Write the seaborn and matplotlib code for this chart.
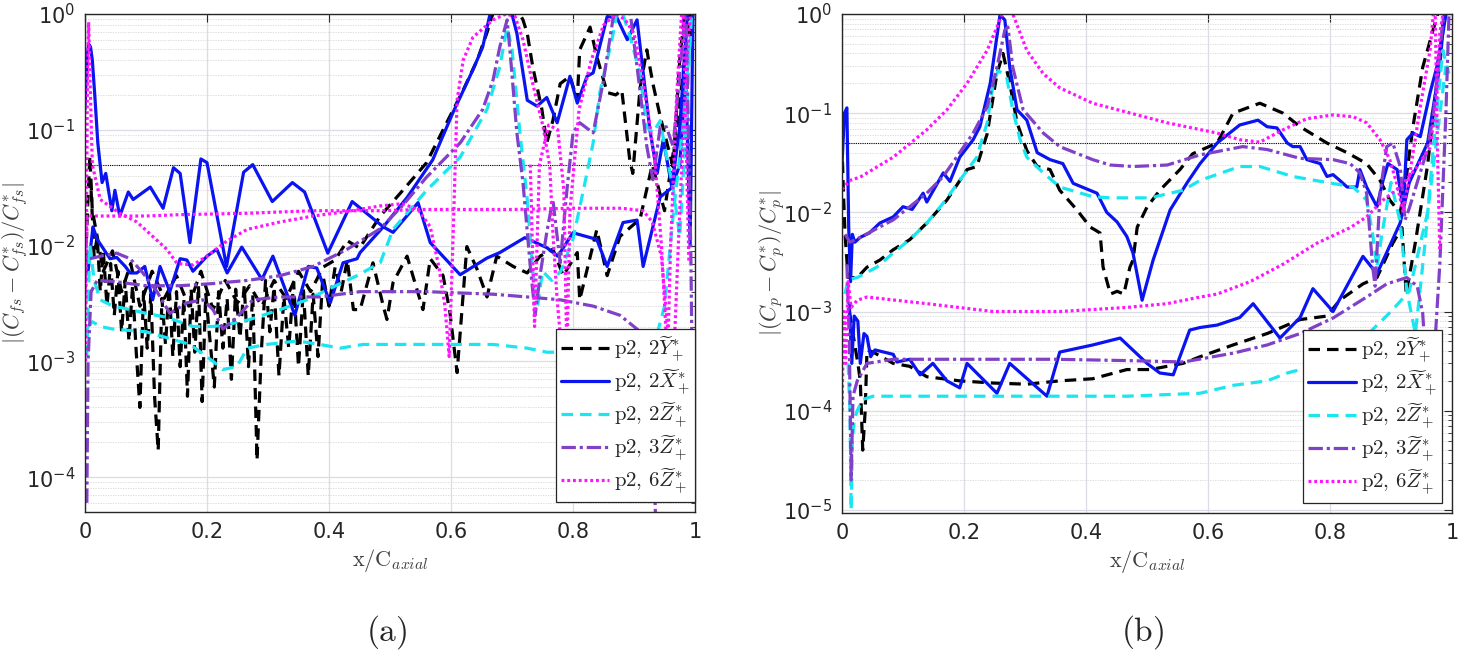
import numpy as np
import pandas as pd
import matplotlib
matplotlib.use("Agg")
import matplotlib.pyplot as plt
import seaborn as sns
from matplotlib.ticker import LogLocator, NullFormatter, FixedLocator, FixedFormatter

sns.set_theme(style="white")
plt.rcParams['font.family'] = ['DejaVu Sans']
plt.rcParams['mathtext.fontset'] = 'cm'

# ---------------- labels ----------------
series_labels = [r"$\mathrm{p2,}\,\mathrm{2}\widetilde{Y}^{*}_{+}$",
                 r"$\mathrm{p2,}\,\mathrm{2}\widetilde{X}^{*}_{+}$",
                 r"$\mathrm{p2,}\,\mathrm{2}\widetilde{Z}^{*}_{+}$",
                 r"$\mathrm{p2,}\,\mathrm{3}\widetilde{Z}^{*}_{+}$",
                 r"$\mathrm{p2,}\,\mathrm{6}\widetilde{Z}^{*}_{+}$"]
xtick_vals = [0, 0.2, 0.4, 0.6, 0.8, 1.0]
xtick_labels = ["0", "0.2", "0.4", "0.6", "0.8", "1"]
ref_level = 0.05

# ---------------- panel (a): skin friction ----------------
a_Y2_hi_x = [0.0, 0.004, 0.008, 0.012, 0.02, 0.03, 0.045, 0.06, 0.075, 0.09, 0.11, 0.13, 0.15, 0.17, 0.19, 0.21, 0.23, 0.25, 0.27, 0.29, 0.31, 0.33, 0.35, 0.37, 0.39, 0.41, 0.43, 0.45, 0.484, 0.521, 0.56, 0.598, 0.62, 0.643, 0.659, 0.675, 0.70, 0.718, 0.725, 0.734, 0.749, 0.757, 0.767, 0.779, 0.795, 0.807, 0.811, 0.828, 0.839, 0.856, 0.87, 0.88, 0.893, 0.898, 0.91, 0.921, 0.931, 0.943, 0.964, 0.975, 0.985, 0.995]
a_Y2_hi_y = [0.005, 0.02, 0.06, 0.02, 0.012, 0.006, 0.009, 0.004, 0.007, 0.003, 0.006, 0.0035, 0.0055, 0.003, 0.006, 0.0028, 0.005, 0.0032, 0.0045, 0.003, 0.005, 0.0035, 0.006, 0.004, 0.0065, 0.0075, 0.011, 0.0095, 0.018, 0.030, 0.052, 0.13, 0.22, 0.40, 0.69, 1.3, 1.3, 0.89, 0.68, 0.35, 0.15, 0.077, 0.12, 0.25, 0.29, 0.18, 0.49, 0.77, 0.43, 0.21, 0.2, 0.22, 0.055, 0.042, 0.23, 0.49, 0.25, 0.13, 0.048, 0.4, 1.3, 0.6]

a_Y2_lo_x = [0.010, 0.015, 0.020, 0.025, 0.030, 0.036, 0.042, 0.048, 0.054, 0.060, 0.066, 0.072, 0.078, 0.084, 0.090, 0.096, 0.102, 0.108, 0.114, 0.120, 0.126, 0.132, 0.138, 0.144, 0.150, 0.156, 0.162, 0.168, 0.174, 0.180, 0.186, 0.192, 0.198, 0.205, 0.212, 0.219, 0.226, 0.233, 0.240, 0.247, 0.254, 0.261, 0.268, 0.275, 0.282, 0.289, 0.296, 0.303, 0.310, 0.318, 0.326, 0.334, 0.342, 0.350, 0.358, 0.366, 0.374, 0.382, 0.390, 0.400, 0.410, 0.420, 0.430, 0.440, 0.451, 0.472, 0.489, 0.495, 0.505, 0.528, 0.544, 0.554, 0.566, 0.587, 0.598, 0.610, 0.626, 0.643, 0.659, 0.675, 0.702, 0.725, 0.746, 0.767, 0.784, 0.807, 0.811, 0.839, 0.856, 0.877, 0.910, 0.930, 0.950, 0.970, 0.985, 0.995]
a_Y2_lo_y = [0.03, 0.008, 0.012, 0.004, 0.009, 0.003, 0.007, 0.0025, 0.006, 0.0018, 0.005, 0.0015, 0.0045, 0.0012, 0.0004, 0.004, 0.0013, 0.0038, 0.0005, 0.00017, 0.0035, 0.0014, 0.0045, 0.0011, 0.004, 0.0009, 0.0035, 0.0005, 0.0042, 0.0012, 0.0045, 0.00045, 0.0038, 0.0015, 0.0006, 0.004, 0.0013, 0.0035, 0.0007, 0.0042, 0.0016, 0.0045, 0.0009, 0.0038, 0.00014, 0.0012, 0.005, 0.0018, 0.0044, 0.00075, 0.0036, 0.0013, 0.0048, 0.0009, 0.0042, 0.00075, 0.0038, 0.0011, 0.0055, 0.003, 0.0065, 0.004, 0.0075, 0.0028, 0.0028, 0.0071, 0.003, 0.0023, 0.0048, 0.0081, 0.0042, 0.0028, 0.0077, 0.0055, 0.0027, 0.0008, 0.0098, 0.0062, 0.0036, 0.0081, 0.0066, 0.0058, 0.0081, 0.0093, 0.0055, 0.0087, 0.0034, 0.0137, 0.0055, 0.012, 0.017, 0.05, 0.02, 0.1, 0.5, 1.3]

a_X2_hi_x = [0.0, 0.003, 0.006, 0.009, 0.012, 0.016, 0.021, 0.028, 0.034, 0.044, 0.049, 0.057, 0.071, 0.079, 0.107, 0.128, 0.145, 0.156, 0.172, 0.190, 0.200, 0.232, 0.260, 0.275, 0.307, 0.340, 0.360, 0.398, 0.438, 0.489, 0.505, 0.546, 0.566, 0.615, 0.659, 0.680, 0.721, 0.757, 0.775, 0.800, 0.839, 0.856, 0.882, 0.905, 0.915, 0.943, 0.962, 0.975, 0.985, 0.992, 0.997]
a_X2_hi_y = [0.15, 0.4, 0.55, 0.52, 0.4, 0.2, 0.077, 0.035, 0.042, 0.020, 0.030, 0.018, 0.029, 0.025, 0.032, 0.021, 0.047, 0.042, 0.0106, 0.056, 0.052, 0.0066, 0.043, 0.050, 0.024, 0.035, 0.029, 0.0086, 0.024, 0.0145, 0.013, 0.0235, 0.0106, 0.0056, 0.0078, 0.0087, 0.0117, 0.0096, 0.0081, 0.0129, 0.0113, 0.0066, 0.0158, 0.0166, 0.0066, 0.0263, 0.0316, 0.05, 0.3, 0.01, 1.5]

a_X2_lo_x = [0.005, 0.013, 0.020, 0.041, 0.052, 0.066, 0.074, 0.085, 0.098, 0.111, 0.123, 0.139, 0.156, 0.167, 0.177, 0.200, 0.216, 0.233, 0.257, 0.290, 0.308, 0.344, 0.366, 0.380, 0.402, 0.423, 0.446, 0.451, 0.489, 0.528, 0.570, 0.603, 0.636, 0.652, 0.664, 0.690, 0.708, 0.725, 0.741, 0.757, 0.774, 0.795, 0.807, 0.823, 0.833, 0.856, 0.872, 0.889, 0.905, 0.926, 0.938, 0.948, 0.962, 0.975, 0.990]
a_X2_lo_y = [0.006, 0.0145, 0.0113, 0.0077, 0.0079, 0.0066, 0.0058, 0.0058, 0.0066, 0.0034, 0.0066, 0.004, 0.0077, 0.0075, 0.006, 0.0081, 0.0093, 0.0058, 0.0097, 0.0051, 0.0081, 0.0025, 0.0066, 0.0064, 0.0032, 0.0071, 0.0077, 0.0087, 0.0145, 0.026, 0.055, 0.14, 0.33, 0.52, 1.0, 1.6, 0.68, 0.18, 0.16, 0.19, 0.115, 0.29, 0.17, 0.29, 0.31, 0.95, 0.93, 0.6, 0.89, 0.1, 0.042, 0.082, 0.032, 0.106, 1.5]

a_Z2_hi_x = [0.003, 0.008, 0.015, 0.025, 0.046, 0.074, 0.100, 0.134, 0.177, 0.210, 0.238, 0.270, 0.320, 0.364, 0.407, 0.446, 0.484, 0.505, 0.560, 0.615, 0.659, 0.680, 0.692, 0.700, 0.713, 0.725, 0.734, 0.742, 0.750, 0.765, 0.780, 0.800, 0.817, 0.833, 0.844, 0.866, 0.875, 0.895, 0.910, 0.921, 0.931, 0.943, 0.953, 0.964, 0.975, 0.985, 0.995]
a_Z2_hi_y = [0.0011, 0.01, 0.005, 0.0034, 0.003, 0.0028, 0.0026, 0.0024, 0.002, 0.002, 0.0021, 0.0023, 0.0028, 0.0034, 0.0044, 0.0055, 0.0071, 0.0138, 0.030, 0.058, 0.15, 0.35, 0.77, 0.5, 0.094, 0.025, 0.006, 0.003, 0.006, 0.005, 0.006, 0.0114, 0.03, 0.077, 0.21, 0.68, 1.3, 0.6, 0.3, 0.106, 0.094, 0.12, 0.06, 0.032, 0.012, 0.1, 1.2]

a_Z2_lo_x = [0.005, 0.012, 0.025, 0.046, 0.100, 0.134, 0.172, 0.210, 0.226, 0.249, 0.266, 0.298, 0.348, 0.385, 0.418, 0.456, 0.505, 0.560, 0.615, 0.669, 0.725, 0.757, 0.800, 0.850, 0.900, 0.930, 0.950, 0.965, 0.980, 0.992]
a_Z2_lo_y = [0.002, 0.0022, 0.002, 0.0019, 0.0018, 0.0016, 0.0014, 0.001, 0.00085, 0.0009, 0.0013, 0.0014, 0.0015, 0.0014, 0.0013, 0.0014, 0.0014, 0.0014, 0.0014, 0.0014, 0.0013, 0.0012, 0.0012, 0.0011, 0.0011, 0.0012, 0.003, 0.02, 0.1, 0.6]

a_Z3_hi_x = [0.003, 0.005, 0.010, 0.020, 0.046, 0.100, 0.156, 0.210, 0.266, 0.320, 0.374, 0.430, 0.484, 0.520, 0.560, 0.615, 0.652, 0.669, 0.680, 0.692, 0.697, 0.708, 0.718, 0.730, 0.738, 0.747, 0.757, 0.767, 0.779, 0.790, 0.800, 0.811, 0.833, 0.849, 0.866, 0.878, 0.893, 0.905, 0.921, 0.931, 0.943, 0.953, 0.964, 0.975, 0.985, 0.993, 0.998]
a_Z3_hi_y = [6e-5, 0.001, 0.004, 0.005, 0.0049, 0.0045, 0.0045, 0.0047, 0.005, 0.0055, 0.0066, 0.0093, 0.014, 0.022, 0.039, 0.077, 0.15, 0.27, 0.52, 0.89, 0.46, 0.094, 0.035, 0.0066, 0.0025, 0.006, 0.013, 0.025, 0.0071, 0.03, 0.094, 0.115, 0.094, 0.25, 0.94, 1.3, 1.1, 0.35, 0.072, 0.037, 0.106, 0.106, 0.072, 0.3, 1.2, 0.01, 6e-5]

a_Z3_lo_x = [0.008, 0.030, 0.052, 0.074, 0.095, 0.118, 0.139, 0.167, 0.193, 0.210, 0.226, 0.249, 0.275, 0.320, 0.385, 0.451, 0.560, 0.669, 0.725, 0.779, 0.833, 0.877, 0.905, 0.921, 0.930, 0.935]
a_Z3_lo_y = [0.0077, 0.0082, 0.0086, 0.0077, 0.0058, 0.004, 0.0026, 0.0032, 0.0034, 0.0028, 0.0019, 0.0024, 0.0034, 0.0036, 0.0036, 0.0040, 0.004, 0.0038, 0.0036, 0.0034, 0.003, 0.0025, 0.0019, 0.0016, 0.0008, 5e-5]

a_Z6_hi_x = [0.0, 0.002, 0.004, 0.010, 0.050, 0.100, 0.156, 0.200, 0.266, 0.320, 0.374, 0.430, 0.484, 0.550, 0.600, 0.700, 0.800, 0.880, 0.915, 0.930, 0.945, 0.955, 0.965, 0.975, 0.985, 0.995]
a_Z6_hi_y = [0.003, 0.01, 0.018, 0.018, 0.018, 0.018, 0.0185, 0.0187, 0.019, 0.0195, 0.02, 0.02, 0.02, 0.0205, 0.0205, 0.0205, 0.021, 0.021, 0.02, 0.016, 0.008, 0.002, 0.001, 0.02, 0.3, 1.5]

a_Z6_lo_x = [0.001, 0.004, 0.006, 0.008, 0.012, 0.025, 0.057, 0.085, 0.111, 0.134, 0.151, 0.177, 0.200, 0.233, 0.266, 0.320, 0.374, 0.430, 0.484, 0.520, 0.546, 0.566, 0.580, 0.590, 0.597, 0.603, 0.610, 0.620, 0.636, 0.669, 0.690, 0.705, 0.718, 0.734, 0.751, 0.762, 0.767, 0.774, 0.780, 0.785, 0.790]
a_Z6_lo_y = [0.001, 0.3, 0.85, 0.3, 0.05, 0.025, 0.019, 0.016, 0.012, 0.0093, 0.007, 0.0068, 0.0081, 0.011, 0.0138, 0.016, 0.018, 0.0197, 0.022, 0.023, 0.0205, 0.0145, 0.0066, 0.003, 0.0011, 0.01, 0.18, 0.4, 0.63, 0.89, 1.0, 0.95, 0.6, 0.25, 0.106, 0.048, 0.013, 0.0034, 0.0015, 0.001, 0.0011]

a_Z6_c_x = [0.730, 0.737, 0.745, 0.760, 0.775, 0.785, 0.790, 0.795, 0.810, 0.830, 0.850, 0.870, 0.885, 0.900, 0.913, 0.925, 0.935, 0.945, 0.955, 0.960, 0.970, 0.980, 0.990]
a_Z6_c_y = [0.05, 0.002, 0.05, 0.11, 0.1, 0.03, 0.0011, 0.02, 0.15, 0.4, 0.8, 1.0, 0.9, 0.68, 0.3, 0.12, 0.048, 0.01, 0.001, 0.01, 0.2, 1.5, 0.007]

# ---------------- panel (b): pressure ----------------
b_Y2_hi_x = [0.0, 0.002, 0.005, 0.010, 0.025, 0.041, 0.062, 0.084, 0.111, 0.139, 0.172, 0.205, 0.221, 0.238, 0.254, 0.264, 0.275, 0.287, 0.303, 0.320, 0.341, 0.357, 0.385, 0.407, 0.423, 0.428, 0.440, 0.451, 0.462, 0.472, 0.477, 0.484, 0.500, 0.521, 0.554, 0.575, 0.615, 0.641, 0.685, 0.723, 0.751, 0.795, 0.828, 0.860, 0.882, 0.898, 0.915, 0.926, 0.936, 0.952, 0.969, 0.985]
b_Y2_hi_y = [0.05, 0.018, 0.006, 0.0022, 0.0022, 0.0028, 0.0033, 0.0042, 0.0053, 0.0078, 0.0133, 0.027, 0.029, 0.062, 0.25, 0.4, 0.2, 0.08, 0.042, 0.029, 0.027, 0.0167, 0.0106, 0.0071, 0.0062, 0.0028, 0.0015, 0.0016, 0.0015, 0.0028, 0.0033, 0.0071, 0.0113, 0.0167, 0.027, 0.039, 0.05, 0.1, 0.126, 0.1, 0.073, 0.05, 0.04, 0.031, 0.021, 0.0133, 0.0098, 0.025, 0.073, 0.29, 0.69, 1.5]

b_Y2_lo_x = [0.012, 0.020, 0.026, 0.030, 0.034, 0.038, 0.041, 0.051, 0.084, 0.111, 0.139, 0.193, 0.248, 0.303, 0.357, 0.411, 0.467, 0.505, 0.559, 0.587, 0.641, 0.697, 0.751, 0.795, 0.816, 0.854, 0.877, 0.903, 0.918, 0.925, 0.940, 0.960, 0.975, 0.990]
b_Y2_lo_y = [0.001, 0.0005, 0.0003, 0.0002, 4e-5, 0.0001, 0.00041, 0.00039, 0.0003, 0.00028, 0.00022, 0.0002, 0.00019, 0.000185, 0.0002, 0.00021, 0.00026, 0.00026, 0.0003, 0.00035, 0.00046, 0.0006, 0.00083, 0.0009, 0.0013, 0.0019, 0.0022, 0.0049, 0.007, 0.0015, 0.005, 0.03, 0.2, 1.5]

b_X2_hi_x = [0.0, 0.004, 0.008, 0.011, 0.014, 0.017, 0.021, 0.030, 0.045, 0.062, 0.084, 0.100, 0.115, 0.133, 0.139, 0.166, 0.177, 0.193, 0.215, 0.226, 0.243, 0.259, 0.267, 0.275, 0.287, 0.303, 0.320, 0.341, 0.362, 0.379, 0.418, 0.434, 0.451, 0.467, 0.477, 0.492, 0.510, 0.538, 0.566, 0.587, 0.615, 0.652, 0.682, 0.697, 0.713, 0.730, 0.739, 0.751, 0.762, 0.784, 0.795, 0.805, 0.816, 0.828, 0.844, 0.849, 0.860, 0.877, 0.887, 0.895, 0.910, 0.920, 0.926, 0.936, 0.948, 0.964, 0.975, 0.985, 0.995]
b_X2_hi_y = [0.03, 0.1, 0.113, 0.007, 0.002, 0.006, 0.005, 0.0056, 0.0062, 0.0078, 0.009, 0.0114, 0.0107, 0.0156, 0.0127, 0.025, 0.0205, 0.036, 0.054, 0.073, 0.2, 0.98, 0.87, 0.29, 0.108, 0.085, 0.04, 0.034, 0.031, 0.0196, 0.0156, 0.010, 0.008, 0.0057, 0.0039, 0.0013, 0.0033, 0.0106, 0.02, 0.031, 0.05, 0.076, 0.085, 0.073, 0.071, 0.05, 0.046, 0.046, 0.034, 0.031, 0.023, 0.024, 0.021, 0.018, 0.018, 0.027, 0.018, 0.0114, 0.021, 0.031, 0.027, 0.0106, 0.054, 0.063, 0.058, 0.16, 0.29, 0.64, 1.5]

b_X2_lo_x = [0.012, 0.016, 0.020, 0.026, 0.030, 0.036, 0.041, 0.047, 0.054, 0.084, 0.090, 0.111, 0.128, 0.149, 0.172, 0.193, 0.205, 0.254, 0.275, 0.336, 0.357, 0.411, 0.456, 0.500, 0.521, 0.543, 0.570, 0.587, 0.615, 0.652, 0.674, 0.718, 0.751, 0.772, 0.805, 0.854, 0.877, 0.915, 0.930, 0.960, 0.980, 0.990]
b_X2_lo_y = [0.0012, 0.0003, 0.0009, 0.0008, 0.0003, 0.0006, 0.00056, 0.00035, 0.00041, 0.00037, 0.00031, 0.00033, 0.00023, 0.0003, 0.0002, 0.00017, 0.0003, 0.00015, 0.0003, 0.00014, 0.00039, 0.00046, 0.00054, 0.0003, 0.00024, 0.00023, 0.00065, 0.00069, 0.00073, 0.00087, 0.0012, 0.00054, 0.00087, 0.0017, 0.001, 0.0036, 0.0024, 0.0078, 0.02, 0.05, 0.3, 1.5]

b_Z2_hi_x = [0.005, 0.010, 0.025, 0.057, 0.084, 0.111, 0.139, 0.166, 0.193, 0.221, 0.238, 0.248, 0.256, 0.270, 0.280, 0.292, 0.303, 0.330, 0.357, 0.411, 0.440, 0.505, 0.559, 0.587, 0.652, 0.685, 0.739, 0.795, 0.838, 0.860, 0.870, 0.877, 0.885, 0.900, 0.915, 0.926, 0.940, 0.956, 0.970, 0.985, 0.995]
b_Z2_hi_y = [0.0015, 0.0021, 0.0022, 0.0028, 0.0039, 0.0053, 0.0078, 0.0124, 0.021, 0.036, 0.08, 0.2, 0.27, 0.23, 0.108, 0.054, 0.036, 0.025, 0.018, 0.0144, 0.014, 0.014, 0.0167, 0.021, 0.029, 0.029, 0.023, 0.02, 0.018, 0.0133, 0.006, 0.0028, 0.006, 0.02, 0.008, 0.0016, 0.0006, 0.005, 0.05, 0.43, 0.25]

b_Z2_lo_x = [0.010, 0.013, 0.015, 0.017, 0.020, 0.025, 0.034, 0.051, 0.139, 0.300, 0.467, 0.587, 0.641, 0.697, 0.730, 0.762, 0.800, 0.850, 0.900, 0.930, 0.960, 0.990]
b_Z2_lo_y = [0.0003, 0.0001, 1e-5, 5e-5, 8e-5, 0.0001, 0.00013, 0.00014, 0.00014, 0.00014, 0.00014, 0.00015, 0.00018, 0.0002, 0.00024, 0.00027, 0.00035, 0.0005, 0.001, 0.0016, 0.01, 0.3]

b_Z3_hi_x = [0.005, 0.013, 0.030, 0.084, 0.139, 0.166, 0.193, 0.215, 0.238, 0.254, 0.267, 0.272, 0.280, 0.297, 0.330, 0.357, 0.411, 0.440, 0.477, 0.533, 0.587, 0.657, 0.697, 0.751, 0.805, 0.833, 0.849, 0.860, 0.870, 0.874, 0.882, 0.893, 0.903, 0.915, 0.923, 0.930, 0.943, 0.959, 0.969, 0.980, 0.990]
b_Z3_hi_y = [0.006, 0.005, 0.0056, 0.0084, 0.0156, 0.023, 0.04, 0.063, 0.116, 0.29, 0.69, 0.74, 0.29, 0.108, 0.063, 0.046, 0.034, 0.030, 0.029, 0.030, 0.038, 0.046, 0.043, 0.035, 0.034, 0.031, 0.025, 0.0156, 0.0028, 0.0018, 0.0156, 0.046, 0.05, 0.029, 0.0084, 0.011, 0.02, 0.042, 0.09, 0.43, 1.5]

b_Z3_lo_x = [0.008, 0.012, 0.015, 0.018, 0.025, 0.041, 0.084, 0.200, 0.350, 0.467, 0.560, 0.641, 0.697, 0.751, 0.805, 0.860, 0.893, 0.926, 0.943, 0.952, 0.956, 0.962, 0.970, 0.980, 0.990, 0.996]
b_Z3_lo_y = [0.003, 0.0005, 2e-5, 0.00014, 0.0002, 0.0003, 0.00033, 0.00033, 0.00033, 0.00032, 0.00031, 0.00038, 0.00046, 0.0006, 0.00086, 0.0014, 0.0019, 0.0022, 0.0018, 0.00096, 0.00038, 0.0001, 0.0003, 0.003, 0.1, 1.5]

b_Z6_hi_x = [0.0, 0.013, 0.030, 0.084, 0.139, 0.172, 0.205, 0.238, 0.259, 0.268, 0.280, 0.303, 0.330, 0.357, 0.411, 0.533, 0.615, 0.652, 0.685, 0.723, 0.762, 0.805, 0.838, 0.860, 0.882, 0.898, 0.911, 0.920, 0.931, 0.948, 0.964, 0.972, 0.976, 0.980]
b_Z6_hi_y = [0.017, 0.021, 0.0227, 0.036, 0.068, 0.108, 0.2, 0.43, 0.87, 1.3, 1.0, 0.43, 0.25, 0.18, 0.126, 0.08, 0.063, 0.054, 0.051, 0.068, 0.088, 0.096, 0.092, 0.08, 0.054, 0.034, 0.018, 0.01, 0.025, 0.116, 0.43, 1.5, 0.05, 0.004]

b_Z6_lo_x = [0.0, 0.003, 0.006, 0.010, 0.015, 0.025, 0.041, 0.139, 0.248, 0.357, 0.467, 0.533, 0.587, 0.615, 0.669, 0.723, 0.779, 0.833, 0.860, 0.887, 0.915, 0.943, 0.964, 0.975, 0.980, 0.990]
b_Z6_lo_y = [0.0001, 0.001, 0.0003, 0.002, 0.0011, 0.0013, 0.0014, 0.0012, 0.001, 0.001, 0.0011, 0.0012, 0.0014, 0.0015, 0.002, 0.003, 0.0049, 0.007, 0.009, 0.0133, 0.018, 0.029, 0.045, 0.14, 0.64, 1.5]

# ---------------- styling ----------------
colors = {"Y2": "#000000", "X2": "#0a14f0", "Z2": "#19e6f0", "Z3": "#8040c8", "Z6": "#ff14ff"}
styles = {"Y2": (0, (3.6, 2.2)), "X2": "-", "Z2": (0, (3.6, 2.2)), "Z3": (0, (4.5, 1.2, 1.0, 1.2)), "Z6": (0, (0.9, 0.9))}
keys = ["Y2", "X2", "Z2", "Z3", "Z6"]
lw = 2.3

fig = plt.figure(figsize=(14.58, 6.56), dpi=100)
axA = fig.add_axes([85/1458, 1-512/656, 610/1458, 498/656])
axB = fig.add_axes([842/1458, 1-513/656, 610/1458, 499/656])

panelA = {
    "Y2": [(a_Y2_hi_x, a_Y2_hi_y), (a_Y2_lo_x, a_Y2_lo_y)],
    "X2": [(a_X2_hi_x, a_X2_hi_y), (a_X2_lo_x, a_X2_lo_y)],
    "Z2": [(a_Z2_hi_x, a_Z2_hi_y), (a_Z2_lo_x, a_Z2_lo_y)],
    "Z3": [(a_Z3_hi_x, a_Z3_hi_y), (a_Z3_lo_x, a_Z3_lo_y)],
    "Z6": [(a_Z6_hi_x, a_Z6_hi_y), (a_Z6_lo_x, a_Z6_lo_y), (a_Z6_c_x, a_Z6_c_y)],
}
panelB = {
    "Y2": [(b_Y2_hi_x, b_Y2_hi_y), (b_Y2_lo_x, b_Y2_lo_y)],
    "X2": [(b_X2_hi_x, b_X2_hi_y), (b_X2_lo_x, b_X2_lo_y)],
    "Z2": [(b_Z2_hi_x, b_Z2_hi_y), (b_Z2_lo_x, b_Z2_lo_y)],
    "Z3": [(b_Z3_hi_x, b_Z3_hi_y), (b_Z3_lo_x, b_Z3_lo_y)],
    "Z6": [(b_Z6_hi_x, b_Z6_hi_y), (b_Z6_lo_x, b_Z6_lo_y)],
}


def draw_panel(ax, panel, ylims, yticks, ylabel, leg_x):
    ax.set_yscale("log")
    for k, lab in zip(keys, series_labels):
        for i, (xs, ys) in enumerate(panel[k]):
            df = pd.DataFrame({"x": xs, "y": ys})
            sns.lineplot(data=df, x="x", y="y", ax=ax, color=colors[k],
                         linestyle=styles[k], linewidth=lw, sort=False,
                         estimator=None, label=lab if i == 0 else None,
                         legend=False)
    ax.axhline(ref_level, color="black", linestyle=(0, (1, 1)), linewidth=0.8, zorder=1)
    ax.set_xlim(0, 1)
    ax.set_ylim(*ylims)
    ax.xaxis.set_major_locator(FixedLocator(xtick_vals))
    ax.xaxis.set_major_formatter(FixedFormatter(xtick_labels))
    ax.yaxis.set_major_locator(FixedLocator(yticks))
    ax.yaxis.set_minor_locator(LogLocator(base=10, subs=np.arange(2, 10), numticks=20))
    ax.yaxis.set_minor_formatter(NullFormatter())
    ax.grid(True, which="major", color="#dcdce6", linewidth=0.9, linestyle="-")
    ax.grid(True, which="minor", axis="y", color="#d6d6d6", linewidth=0.6, linestyle=(0, (1.5, 1.5)))
    ax.set_axisbelow(True)
    ax.tick_params(which="both", direction="in", top=True, right=True,
                   colors="#262626", labelsize=15, pad=7)
    ax.tick_params(which="major", length=6, width=0.8)
    ax.tick_params(which="minor", length=3, width=0.6)
    for sp in ax.spines.values():
        sp.set_color("#262626")
        sp.set_linewidth(1.0)
    ax.set_xlabel(r"$\mathrm{x/C}_{axial}$", fontsize=16, color="#404040", labelpad=4)
    ax.set_ylabel(ylabel, fontsize=16, color="#404040")
    ax.yaxis.set_label_coords(-0.09, 0.5)
    leg = ax.legend(loc="lower right", bbox_to_anchor=(leg_x, 0.02), borderaxespad=0,
                    frameon=True, fancybox=False, framealpha=1, edgecolor="#262626",
                    fontsize=15, handlelength=2.3, handletextpad=0.25,
                    labelspacing=0.14, borderpad=0.25)
    leg.get_frame().set_linewidth(0.9)


draw_panel(axA, panelA, (5e-5, 1.0), [1e-4, 1e-3, 1e-2, 1e-1, 1e0],
           r"$|(C_{fs}-C^{*}_{fs})/C^{*}_{fs}|$", 1.0)
draw_panel(axB, panelB, (9.3e-6, 1.0), [1e-5, 1e-4, 1e-3, 1e-2, 1e-1, 1e0],
           r"$|(C_{p}-C^{*}_{p})/C^{*}_{p}|$", 0.984)

fig.text(387/1458, 1-632/656, r"$\mathrm{(a)}$", ha="center", va="center", fontsize=24)
fig.text(1143/1458, 1-632/656, r"$\mathrm{(b)}$", ha="center", va="center", fontsize=24)

fig.savefig("out.png", dpi=100, facecolor="white")
